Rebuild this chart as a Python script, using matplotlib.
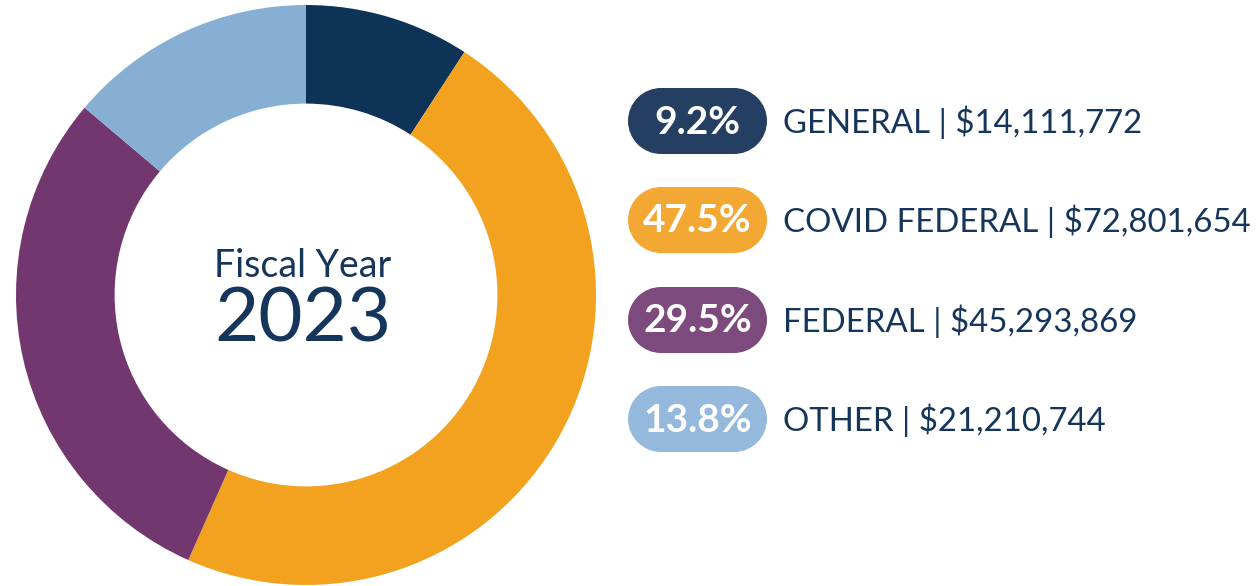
import matplotlib.pyplot as plt
from matplotlib.patches import Rectangle, Circle

# data
categories = ["GENERAL", "COVID FEDERAL", "FEDERAL", "OTHER"]
amounts = [14111772, 72801654, 45293869, 21210744]
pct_labels = ["9.2%", "47.5%", "29.5%", "13.8%"]
wedge_colors = ["#0d3356", "#f3a21f", "#733770", "#86afd3"]
pill_colors = ["#243f61", "#f3a834", "#7d4a7d", "#94b9dc"]
text_color = "#15365a"
year = "2023"

plt.rcParams['font.family'] = ['Lato', 'DejaVu Sans']

fig = plt.figure(figsize=(12.58, 5.86), dpi=100)
ax = fig.add_axes([0, 0, 1, 1])

# donut
cx, cy, r = 306, 291, 290
ax.pie(amounts, colors=wedge_colors, startangle=90, counterclock=False,
       center=(cx, cy), radius=r, frame=True,
       wedgeprops=dict(width=r * 0.34, linewidth=0))
ax.set_xlim(0, 1258)
ax.set_ylim(0, 586)
ax.set_aspect('equal')
ax.axis('off')

ax.text(cx - 3, 586 - 266, "Fiscal Year", ha='center', va='center',
        fontsize=27, color=text_color)
ax.text(cx - 3, 586 - 320, year, ha='center', va='center',
        fontsize=55, color=text_color)

# legend pills (stadium shape: rectangle + two half circles)
row_y = [121, 220, 320, 419]
x0, x1, h = 628, 767, 66
for i, cat in enumerate(categories):
    y = 586 - row_y[i]
    c = pill_colors[i]
    ax.add_patch(Rectangle((x0 + h / 2, y - h / 2), x1 - x0 - h, h, fc=c, ec='none'))
    ax.add_patch(Circle((x0 + h / 2, y), h / 2, fc=c, ec='none'))
    ax.add_patch(Circle((x1 - h / 2, y), h / 2, fc=c, ec='none'))
    ax.text((x0 + x1) / 2, y - 1, pct_labels[i], ha='center', va='center',
            fontsize=28, color='white', fontweight='bold')
    ax.text(783, y - 1, f"{cat} | ${amounts[i]:,}", ha='left', va='center',
            fontsize=23.8, color=text_color)

fig.savefig("out.png", dpi=100)
